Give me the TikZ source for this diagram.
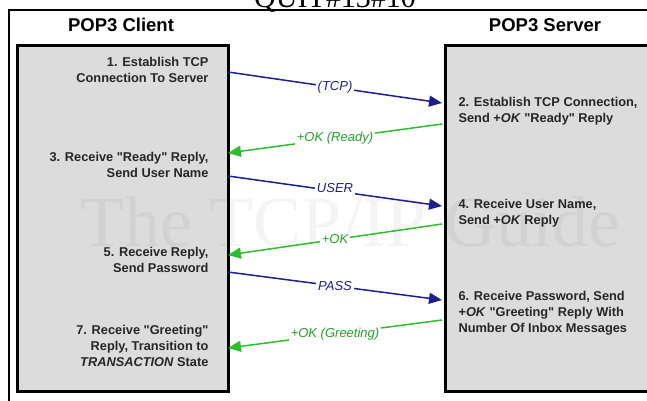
\documentclass[tikz,border=0pt]{standalone}
\usepackage{fontspec}
\setmainfont{Liberation Sans}[Ligatures=TeXOff]
\newfontfamily\seriffont{Liberation Serif}
\usepackage{xcolor}
\definecolor{msgblue}{RGB}{30,30,140}
\definecolor{msggreen}{RGB}{45,190,45}
\definecolor{boxgray}{RGB}{220,220,220}
\usetikzlibrary{arrows.meta}

\begin{document}
\begin{tikzpicture}[x=1pt,y=-1pt,
                    >={Triangle[length=13pt,width=11pt]},
                    host/.style={draw=black,line width=2.6pt,fill=boxgray,
                                 anchor=north west,inner sep=0pt},
                    head/.style={font=\bfseries\fontsize{18.5}{20}\selectfont},
                    lstep/.style={font=\bfseries\fontsize{12.8}{16}\selectfont,
                                  text=black!85,align=right,anchor=east},
                    rstep/.style={font=\bfseries\fontsize{12.8}{16}\selectfont,
                                  text=black!85,align=left,anchor=west},
                    tomsg/.style={->,draw=msgblue,line width=1.5pt},
                    backmsg/.style={->,draw=msggreen,line width=1.5pt},
                    tolabel/.style={fill=white,inner sep=2pt,text=msgblue,
                                    font=\itshape\fontsize{13}{13}\selectfont},
                    backlabel/.style={fill=white,inner sep=2pt,text=msggreen!85!black,
                                      font=\itshape\fontsize{13}{13}\selectfont}]
  \useasboundingbox (0,0) rectangle (647,400);
  \clip (0,0) rectangle (647,400);

  % title line, cut at the top
  \node[font=\seriffont\fontsize{30}{30}\selectfont,anchor=base] (title) at (335,7.5) {QUIT\#13\#10};
  \draw[line width=2pt] (9,402) -- (9,10) -- (660,10);

  \node[head] (clienthead) at (121,25) {POP3 Client};
  \node[head] (serverhead) at (545,25) {POP3 Server};

  \node[host,minimum width=211pt,minimum height=346pt] (client) at (16,44) {};
  \node[host,minimum width=230pt,minimum height=346pt] (server) at (444,44) {};

  % watermark
  \node[font=\seriffont\fontsize{72}{72}\selectfont,text=black,opacity=0.045] (mark) at (350,222) {The TCP/IP Guide};

  % client steps
  \node[lstep] (step1) at (212,70) {1. Establish TCP\\Connection To Server};
  \node[lstep] (step3) at (212,164.5) {3. Receive "Ready" Reply,\\Send User Name};
  \node[lstep] (step5) at (212,260) {5. Receive Reply,\\Send Password};
  \node[lstep] (step7) at (212,346) {7. Receive "Greeting"\\Reply, Transition to\\\textit{TRANSACTION} State};

  % server steps
  \node[rstep] (step2) at (455,111.5) {2. Establish TCP Connection,\\Send +\textit{OK} "Ready" Reply};
  \node[rstep] (step4) at (455,213) {4. Receive User Name,\\Send +\textit{OK} Reply};
  \node[rstep] (step6) at (455,313) {6. Receive Password, Send\\+\textit{OK} "Greeting" Reply With\\Number Of Inbox Messages};

  \coordinate (c1) at (228,72);  \coordinate (s1) at (442,103);
  \coordinate (c2) at (228,153); \coordinate (s2) at (442,124);
  \coordinate (c3) at (228,176); \coordinate (s3) at (442,206);
  \coordinate (c4) at (228,255); \coordinate (s4) at (442,224);
  \coordinate (c5) at (228,272); \coordinate (s5) at (442,300);
  \coordinate (c6) at (228,348); \coordinate (s6) at (442,320);

  \path (c1) edge[tomsg] node[tolabel] {(TCP)} (s1)
        (s2) edge[backmsg] node[backlabel] {+OK (Ready)} (c2)
        (c3) edge[tomsg] node[tolabel,yshift=3pt] {USER} (s3)
        (s4) edge[backmsg] node[backlabel] {+OK} (c4)
        (c5) edge[tomsg] node[tolabel] {PASS} (s5)
        (s6) edge[backmsg] node[backlabel] {+OK (Greeting)} (c6);
\end{tikzpicture}
\end{document}
